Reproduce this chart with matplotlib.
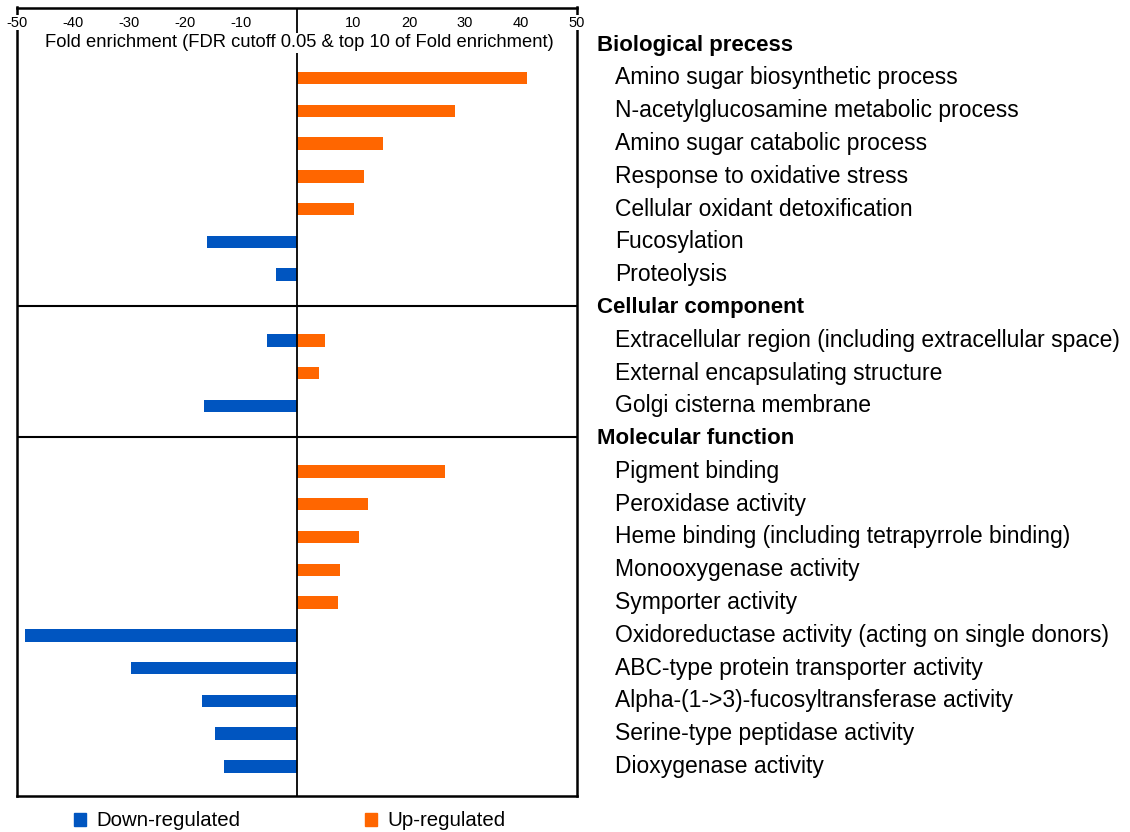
import numpy as np
import matplotlib.pyplot as plt
from matplotlib.patches import Patch

plt.rcParams['font.family'] = ['Liberation Sans', 'DejaVu Sans']

UP_COLOR = '#FF6600'
DOWN_COLOR = '#0055C0'

group_names = ["Biological precess", "Cellular component", "Molecular function"]

bp_terms = ["Amino sugar biosynthetic process",
            "N-acetylglucosamine metabolic process",
            "Amino sugar catabolic process",
            "Response to oxidative stress",
            "Cellular oxidant detoxification",
            "Fucosylation",
            "Proteolysis"]
bp_up = [41.1, 28.3, 15.4, 12.0, 10.2, 0, 0]
bp_down = [0, 0, 0, 0, 0, -16.1, -3.7]

cc_terms = ["Extracellular region (including extracellular space)",
            "External encapsulating structure",
            "Golgi cisterna membrane"]
cc_up = [5.0, 3.9, 0]
cc_down = [-5.4, 0, -16.6]

mf_terms = ["Pigment binding",
            "Peroxidase activity",
            "Heme binding (including tetrapyrrole binding)",
            "Monooxygenase activity",
            "Symporter activity",
            "Oxidoreductase activity (acting on single donors)",
            "ABC-type protein transporter activity",
            "Alpha-(1->3)-fucosyltransferase activity",
            "Serine-type peptidase activity",
            "Dioxygenase activity"]
mf_up = [26.4, 12.6, 11.1, 7.7, 7.3, 0, 0, 0, 0, 0]
mf_down = [0, 0, 0, 0, 0, -48.6, -29.7, -17.0, -14.7, -13.0]

xticks = [-50, -40, -30, -20, -10, 0, 10, 20, 30, 40, 50]
xtick_labels = ["-50", "-40", "-30", "-20", "-10", "", "10", "20", "30", "40", "50"]

groups = [(group_names[0], bp_terms, bp_up, bp_down),
          (group_names[1], cc_terms, cc_up, cc_down),
          (group_names[2], mf_terms, mf_up, mf_down)]

fig = plt.figure(figsize=(11.3, 8.32), dpi=100)
ax = fig.add_axes([17 / 1130, 36 / 832, 560 / 1130, 788.5 / 832])

label_tf = ax.get_yaxis_transform()
row = 0
for gi, (name, terms, up, down) in enumerate(groups):
    # group heading sits on its own row, the box is split there
    ax.text(1.036, row, name, transform=label_tf, fontsize=16, fontweight='bold',
            va='center', ha='left')
    if gi > 0:
        ax.axhline(row - 0.04, color='black', lw=1.5, zorder=3)
    row += 1
    ys = np.arange(row, row + len(terms))
    up = np.array(up)
    down = np.array(down)
    ax.barh(ys[up != 0], up[up != 0], height=0.38, color=UP_COLOR, zorder=2)
    ax.barh(ys[down != 0], down[down != 0], height=0.38, color=DOWN_COLOR, zorder=2)
    for y, term in zip(ys, terms):
        ax.text(1.068, y, term, transform=label_tf, fontsize=16.5, va='center', ha='left')
    row += len(terms)

ax.axvline(0, color='black', lw=1.3, zorder=3)

ax.set_xlim(-50, 50)
ax.set_ylim(22.9, -1.15)
ax.set_yticks([])

ax.xaxis.set_ticks_position('top')
ax.set_xticks(xticks)
ax.set_xticklabels(xtick_labels)
ax.tick_params(axis='x', length=0, labeltop=True, labelbottom=False, pad=-16,
               labelsize=10.5)
ax.xaxis.set_zorder(4)
for lbl in ax.get_xticklabels():
    lbl.set_bbox(dict(fc='white', ec='none', pad=0.5))

for sp in ax.spines.values():
    sp.set_linewidth(1.8)
    sp.set_color('black')

ax.text(0.5036, 0.955, "Fold enrichment (FDR cutoff 0.05 & top 10 of Fold enrichment)",
        transform=ax.transAxes, ha='center', va='center', fontsize=13.2, zorder=5,
        bbox=dict(fc='white', ec='none', pad=1))

handles = [Patch(color=DOWN_COLOR, label='Down-regulated'),
           Patch(color=UP_COLOR, label='Up-regulated')]
fig.legend(handles=handles, loc='center left', bbox_to_anchor=(74 / 1130, 1 - 821 / 832),
           ncol=2, frameon=False, fontsize=14.7, handlelength=0.6, handleheight=0.6,
           handletextpad=0.5, columnspacing=6.1, borderpad=0, borderaxespad=0)

fig.savefig('out.png', dpi=100)
